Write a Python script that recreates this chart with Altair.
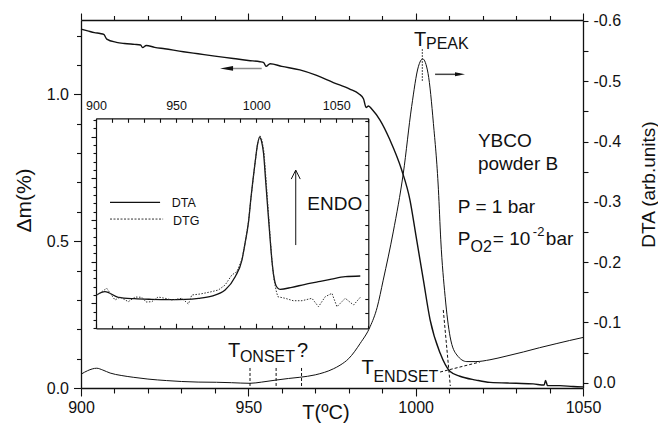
import altair as alt
import pandas as pd

FONT = "Liberation Sans"
INK = "#111111"

# ---------------- main TG curve (left axis, delta m %) ----------------
tg_T = [900, 902, 904, 905.7, 906.8, 907.7, 910.6, 913, 916, 917.8,
        918.4, 919.5, 922, 925, 930.6, 935, 940, 945.5, 950, 953.5,
        954.6, 955.3, 956.5, 960, 965.4, 970, 975.4, 980.3, 983, 984.4,
        985.2, 985.9, 987, 989.3, 992.3, 995.8, 998.3, 1000, 1002.3, 1004.3,
        1007.3, 1010.3, 1013.2, 1018, 1022.2, 1030, 1035.1, 1038.4, 1038.8, 1039.4,
        1043, 1047.1, 1050]
tg_v = [1.222, 1.216, 1.210, 1.207, 1.204, 1.188, 1.177, 1.173, 1.170, 1.168,
        1.159, 1.166, 1.160, 1.155, 1.145, 1.138, 1.130, 1.122, 1.115, 1.111,
        1.108, 1.095, 1.104, 1.095, 1.083, 1.066, 1.040, 1.018, 1.002, 0.985,
        0.955, 0.960, 0.948, 0.913, 0.845, 0.743, 0.640, 0.525, 0.368, 0.233,
        0.119, 0.056, 0.040, 0.027, 0.019, 0.016, 0.014, 0.010, 0.026, 0.008,
        0.008, 0.005, 0.004]

# ---------------- main DTA curve (right axis, reversed) ----------------
dta_T = [900, 902, 904.7, 906.5, 908.7, 912, 915.6, 920, 925.6, 930,
         935, 940.5, 945, 950.5, 954, 958.5, 962, 965.4, 970, 975.4,
         977.4, 980, 983.4, 986.4, 988.5, 990.3, 993.3, 996.3, 998.8, 1000.8,
         1002.1, 1003.7, 1005.3, 1006.8, 1007.5, 1008.8, 1010.3, 1012.3, 1015.3, 1018,
         1022.2, 1027, 1032.2, 1037, 1042.2, 1046, 1050]
dta_v = [-0.014, -0.020, -0.024, -0.021, -0.016, -0.012, -0.009, -0.006, -0.0035, -0.002,
         -0.001, -0.0007, 0.0, 0.001, -0.001, -0.0045, -0.007, -0.009, -0.013, -0.023,
         -0.029, -0.040, -0.065, -0.093, -0.125, -0.170, -0.250, -0.347, -0.458, -0.524,
         -0.537, -0.513, -0.430, -0.320, -0.237, -0.143, -0.076, -0.046, -0.035, -0.035,
         -0.038, -0.044, -0.051, -0.058, -0.065, -0.070, -0.075]

# ---------------- inset curves (arbitrary units) ----------------
in_dta_T = [900.4, 905.6, 913.9, 924, 934.8, 945, 955.6, 964, 972.3, 980.6,
            986.9, 991.1, 993.1, 995.2, 996.8, 999.4, 1000.8, 1002.1, 1003.4, 1004.6,
            1006.0, 1007.3, 1008.75, 1009.8, 1010.8, 1011.9, 1013.3, 1015, 1022.3, 1030,
            1038.9, 1047, 1055.6, 1065]
in_dta_v = [1.20, 1.278, 1.144, 1.11, 1.096, 1.09, 1.096, 1.12, 1.175, 1.319,
            1.638, 2.038, 2.45, 2.95, 3.55, 4.40, 4.80, 4.98, 4.88, 4.60,
            3.90, 3.24, 2.52, 2.04, 1.70, 1.48, 1.37, 1.336, 1.384, 1.45,
            1.518, 1.58, 1.638, 1.655]
in_dtg_T = [900.4, 902.5, 906.7, 908.75, 911.9, 915, 920.2, 924.4, 928.6, 931.25,
            934.8, 938.75, 943.1, 947.5, 953.6, 957.7, 959.8, 965, 971.25, 976.4,
            980.6, 984.8, 987.9, 991.1, 993.1, 995.2, 996.8, 999.4, 1000.8, 1002.3,
            1003.6, 1004.9, 1006.3, 1007.6, 1009.0, 1010.0, 1011.2, 1012.5, 1013.5, 1018.1,
            1023.1, 1028.6, 1034.8, 1038.9, 1043.1, 1047.3, 1050.4, 1055.6, 1060.8, 1065]
in_dtg_v = [1.199, 1.247, 1.360, 1.247, 1.079, 1.151, 1.038, 1.151, 1.144, 1.031,
            1.038, 1.151, 1.12, 1.079, 1.12, 0.983, 1.199, 1.223, 1.271, 1.319,
            1.439, 1.679, 1.758, 2.05, 2.45, 2.95, 3.55, 4.40, 4.82, 5.03,
            4.92, 4.62, 3.90, 3.20, 2.45, 1.95, 1.55, 1.30, 1.158, 1.12,
            1.062, 1.062, 1.12, 0.918, 1.158, 1.240, 0.918, 1.12, 0.959, 1.144]

# ---------------- tick values ----------------
main_x_ticks = [900, 910, 920, 930, 940, 950, 960, 970, 980, 990, 1000, 1010, 1020, 1030, 1040, 1050]
left_ticks = [0.0, 0.1, 0.2, 0.3, 0.4, 0.5, 0.6, 0.7, 0.8, 0.9, 1.0, 1.1, 1.2]
right_ticks = [0.0, -0.05, -0.1, -0.15, -0.2, -0.25, -0.3, -0.35, -0.4, -0.45, -0.5, -0.55, -0.6]
inset_x_ticks = [900, 910, 920, 930, 940, 950, 960, 970, 980, 990, 1000, 1010, 1020, 1030, 1040,
                 1050, 1060, 1070]
inset_left_ticks = [0.4, 0.6, 0.8, 1.0, 1.2, 1.4, 1.6, 1.8, 2.0, 2.2, 2.4, 2.6, 2.8, 3.0, 3.2, 3.4,
                    3.6, 3.8, 4.0, 4.2, 4.4, 4.6, 4.8, 5.0, 5.2, 5.4]
inset_right_ticks = [0.76, 1.115, 1.47, 1.825, 2.18, 2.535, 2.89, 3.245, 3.6, 3.955, 4.31, 4.665,
                     5.02, 5.375]

# ---------------- scales ----------------
W, H = 502, 368
sx_main = alt.Scale(domain=[900, 1050], nice=False, zero=False)
sx_top = alt.Scale(domain=[900, 1050], nice=False, zero=False)
sy_left = alt.Scale(domain=[0, 1.253], nice=False, zero=False)
sy_right = alt.Scale(domain=[0.0088, -0.6015], nice=False, zero=False)
IN_X = [15, 287.3]
IN_Y = [308.3, 98.3]
sx_in = alt.Scale(domain=[900, 1070], range=IN_X, nice=False, zero=False)
sx_in2 = alt.Scale(domain=[900, 1070], range=IN_X, nice=False, zero=False)
sy_in = alt.Scale(domain=[0.4, 5.44], range=IN_Y, nice=False, zero=False)
sy_in2 = alt.Scale(domain=[0.4, 5.44], range=IN_Y, nice=False, zero=False)


def cond(test, major, minor):
    return {"condition": {"test": test, "value": major}, "value": minor}


def axis(**kw):
    base = dict(grid=False, domainColor=INK, domainWidth=1.3, tickColor=INK, tickWidth=1.1,
                labelColor=INK, labelFont=FONT, labelFontSize=16, titleFont=FONT,
                titleColor=INK, titleFontWeight="normal", labelFlush=False,
                labelOverlap=False, title="")
    base.update(kw)
    return alt.Axis(**base)


T50 = "datum.value % 50 == 0"
HALF = "abs(datum.value * 2 - round(datum.value * 2)) < 0.001"
TENTH = "abs(datum.value * 10 - round(datum.value * 10)) < 0.001"
UNIT = "abs(datum.value - round(datum.value)) < 0.001"

ax_bottom = axis(orient="bottom", values=main_x_ticks, format="d",
                 labelExpr=T50 + " ? datum.label : ''", tickSize=cond(T50, 8, 5),
                 labelPadding=3, title="T(ºC)", titleFontSize=20, titleX=244.5,
                 titleY=30, titleAlign="center", titleBaseline="alphabetic")
ax_left = axis(orient="left", values=left_ticks, format=".1f",
               labelExpr=HALF + " ? datum.label : ''", tickSize=cond(HALF, 7.5, 4.5),
               labelPadding=5, title="Δm(%)", titleFontSize=21, titleAngle=270,
               titleX=-51, titleY=180, titleAlign="center", titleBaseline="alphabetic")
ax_top = axis(orient="top", values=main_x_ticks, labels=False, tickSize=cond(T50, 7, 4.5))
ax_right = axis(orient="right", values=right_ticks, tickSize=5, labelPadding=5,
                labelExpr=TENTH + " ? ((datum.value < -0.000001 ? '-' : '') + format(abs(datum.value), '.1f')) : ''",
                title="DTA (arb.units)", titleFontSize=19, titleAngle=270, titleX=71,
                titleY=164, titleAlign="center", titleBaseline="alphabetic")
ax_in_top = axis(orient="bottom", offset=-(H - IN_Y[1]), values=inset_x_ticks, format="d",
                 labelExpr=T50 + " ? datum.label : ''", labelFontSize=12.5, tickSize=4,
                 labelPadding=-13.3, labelBaseline="alphabetic", domainWidth=1.2)
ax_in_left = axis(orient="left", offset=-IN_X[0], values=inset_left_ticks, labels=False,
                  tickSize=cond(UNIT, 5, 3), domainWidth=1.2)
ax_in_bottom = axis(orient="top", offset=-IN_Y[0], values=inset_x_ticks, labels=False,
                    tickSize=cond(T50, 5, 3), domainWidth=1.2)
ax_in_right = axis(orient="left", offset=-IN_X[1], values=inset_right_ticks, labels=False,
                   tickSize=3.5, domainWidth=1.2)


def enc(sx, ax, sy, ay):
    return dict(x=alt.X("T:Q", scale=sx, axis=ax), y=alt.Y("v:Q", scale=sy, axis=ay))


E0 = enc(sx_main, ax_bottom, sy_left, ax_left)
E1 = enc(sx_top, ax_top, sy_right, ax_right)
E2 = enc(sx_in, ax_in_top, sy_in, ax_in_left)
E3 = enc(sx_in2, ax_in_bottom, sy_in2, ax_in_right)

LEFT_HEAD = "M -1 0 L 1 -0.36 L 1 0.36 Z"
RIGHT_HEAD = "M 1 0 L -1 -0.4 L -1 0.4 Z"
UP_CHEVRON = "M -0.45 0.9 L 0 0 L 0.45 0.9"


def text(df, E, size, dx=0, dy=0):
    return alt.Chart(df).mark_text(font=FONT, fontSize=size, dx=dx, dy=dy, align="left",
                                   baseline="alphabetic", color=INK).encode(
        **E, text=alt.Text("label:N"))


# ---------------- layer 0 : TG ----------------
tg_df = pd.DataFrame({"T": tg_T, "v": tg_v})
l_arrow = pd.DataFrame({"T": [943.5], "T2": [954.0], "v": [1.088]})
L0 = alt.layer(
    alt.Chart(tg_df).mark_line(color=INK, strokeWidth=1.4, interpolate="monotone").encode(**E0),
    alt.Chart(l_arrow).mark_rule(color="#8a8a8a", strokeWidth=1.6).encode(**E0, x2=alt.X2("T2")),
    alt.Chart(l_arrow).mark_point(shape=LEFT_HEAD, filled=True, color=INK, size=169,
                                  opacity=1, strokeWidth=0).encode(**E0),
)

# ---------------- layer 1 : DTA + annotations ----------------
dta_df = pd.DataFrame({"T": dta_T, "v": dta_v})
peak_line = pd.DataFrame({"T": [1002.0], "v": [-0.553], "v2": [-0.4987]})
onset_lines = pd.DataFrame({"T": [950.5, 958.3, 965.9], "v": [-0.0244] * 3, "v2": [0.0085] * 3})
endset_lines = pd.DataFrame({"T": [1008.25, 1007.3], "T2": [1010.35, 1019.2],
                             "v": [-0.1206, -0.0177], "v2": [0.0055, -0.0343]})
r_arrow = pd.DataFrame({"T": [1005.8], "T2": [1013.25], "v": [-0.5114]})
r_head = pd.DataFrame({"T": [1013.25], "v": [-0.5114]})

big_T = pd.DataFrame({"T": [999.5, 943.9, 983.8], "v": [-0.5584, -0.0426, -0.0144],
                      "label": ["T", "T", "T"]})
sub_peak = pd.DataFrame({"T": [999.5], "v": [-0.5584], "label": ["PEAK"]})
sub_onset = pd.DataFrame({"T": [943.9], "v": [-0.0426], "label": ["ONSET"]})
q_onset = pd.DataFrame({"T": [943.9], "v": [-0.0426], "label": ["?"]})
sub_endset = pd.DataFrame({"T": [983.8], "v": [-0.0144], "label": ["ENDSET"]})
info = pd.DataFrame({"T": [1018.6, 1018.6, 1012.6, 1012.6],
                     "v": [-0.3909, -0.3527, -0.2814, -0.2284],
                     "label": ["YBCO", "powder B", "P = 1 bar", "P"]})
po2 = pd.DataFrame({"T": [1012.6], "v": [-0.2284], "label": ["O2"]})
eq10 = pd.DataFrame({"T": [1012.6], "v": [-0.2284], "label": ["= 10"]})
exp2 = pd.DataFrame({"T": [1012.6], "v": [-0.2284], "label": ["-2"]})
bar = pd.DataFrame({"T": [1012.6], "v": [-0.2284], "label": ["bar"]})

L1 = alt.layer(
    alt.Chart(dta_df).mark_line(color=INK, strokeWidth=1.0, interpolate="monotone").encode(**E1),
    alt.Chart(peak_line).mark_rule(color="#333333", strokeWidth=1.2, strokeDash=[1.5, 1.5]).encode(
        **E1, y2=alt.Y2("v2")),
    alt.Chart(onset_lines).mark_rule(color=INK, strokeWidth=1.0, strokeDash=[3, 2]).encode(
        **E1, y2=alt.Y2("v2")),
    alt.Chart(endset_lines).mark_rule(color=INK, strokeWidth=1.0, strokeDash=[3, 2]).encode(
        **E1, x2=alt.X2("T2"), y2=alt.Y2("v2")),
    alt.Chart(r_arrow).mark_rule(color="#444444", strokeWidth=1.5).encode(**E1, x2=alt.X2("T2")),
    alt.Chart(r_head).mark_point(shape=RIGHT_HEAD, filled=True, color=INK, size=100,
                                 opacity=1, strokeWidth=0).encode(**E1),
    text(big_T, E1, 20),
    text(sub_peak, E1, 16, dx=12, dy=3),
    text(sub_onset, E1, 16, dx=12, dy=5),
    text(q_onset, E1, 20, dx=69),
    text(sub_endset, E1, 16, dx=12, dy=8),
    text(info, E1, 19),
    text(po2, E1, 16, dx=12.7, dy=7),
    text(eq10, E1, 19, dx=35),
    text(exp2, E1, 13, dx=75, dy=-9),
    text(bar, E1, 19, dx=88),
)

# ---------------- layer 2 : inset DTA, legend, ENDO ----------------
in_dta_df = pd.DataFrame({"T": in_dta_T, "v": in_dta_v})
leg_solid = pd.DataFrame({"T": [908.75], "T2": [940.0], "v": [3.422]})
leg_dot = pd.DataFrame({"T": [908.75], "T2": [941.9], "v": [3.022]})
leg_txt = pd.DataFrame({"T": [947.3, 948.1], "v": [3.309, 2.878], "label": ["DTA", "DTG"]})
endo_shaft = pd.DataFrame({"T": [1024.7], "v": [2.398], "v2": [4.19]})
endo_tip = pd.DataFrame({"T": [1024.7], "v": [4.197]})
endo_txt = pd.DataFrame({"T": [1031.9], "v": [3.237], "label": ["ENDO"]})

L2 = alt.layer(
    alt.Chart(in_dta_df).mark_line(color=INK, strokeWidth=1.3, interpolate="monotone").encode(**E2),
    alt.Chart(leg_solid).mark_rule(color=INK, strokeWidth=1.2).encode(**E2, x2=alt.X2("T2")),
    alt.Chart(leg_dot).mark_rule(color="#333333", strokeWidth=1.0, strokeDash=[2, 1.5]).encode(
        **E2, x2=alt.X2("T2")),
    text(leg_txt, E2, 12.5),
    alt.Chart(endo_shaft).mark_rule(color=INK, strokeWidth=1.0).encode(**E2, y2=alt.Y2("v2")),
    alt.Chart(endo_tip).mark_point(shape=UP_CHEVRON, filled=False, color=INK, size=400,
                                   opacity=1, strokeWidth=1.0).encode(**E2),
    text(endo_txt, E2, 19),
)

# ---------------- layer 3 : inset DTG ----------------
in_dtg_df = pd.DataFrame({"T": in_dtg_T, "v": in_dtg_v})
L3 = alt.layer(
    alt.Chart(in_dtg_df).mark_line(color="#333333", strokeWidth=1.0,
                                   strokeDash=[1.5, 1.5]).encode(**E3),
)

chart = alt.layer(L0, L1, L2, L3).resolve_scale(
    x="independent", y="independent"
).resolve_axis(
    x="independent", y="independent"
).properties(
    width=W, height=H,
    autosize=alt.AutoSizeParams(type="none"),
    padding={"left": 73, "top": 12, "right": 75, "bottom": 35},
).configure(font=FONT).configure_view(stroke="transparent")

chart.save("out.html", embed_options={"renderer": "svg", "actions": False})
